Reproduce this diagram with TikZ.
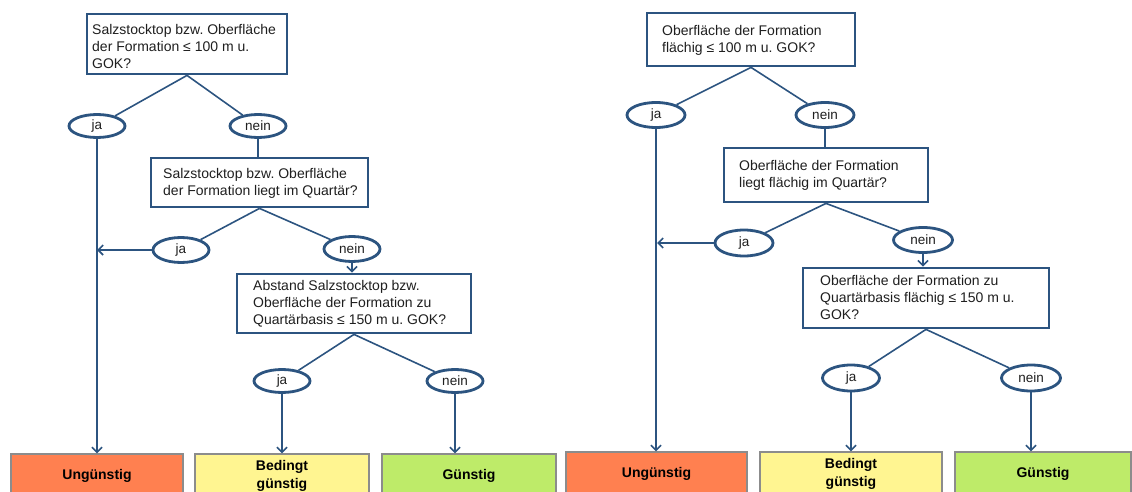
\documentclass[tikz,border=0pt]{standalone}
\usepackage{fontspec}
\setmainfont{Liberation Sans}
\usetikzlibrary{shapes.geometric,arrows.meta}
\definecolor{bl}{RGB}{44,84,128}
\definecolor{orng}{RGB}{255,128,80}
\definecolor{yel}{RGB}{255,245,145}
\definecolor{grn}{RGB}{190,235,105}
\definecolor{frm}{RGB}{140,140,140}
\frenchspacing
\begin{document}
\begin{tikzpicture}[x=1pt,y=-1pt,
  qbox/.style={draw=bl,line width=2.8pt,fill=white,inner sep=0pt},
  qtext/.style={anchor=west,align=left,inner sep=0pt,font=\fontsize{14}{17}\selectfont,text=black!88},
  ans/.style={ellipse,draw=bl,line width=2.8pt,fill=white,inner sep=0pt,minimum width=56pt,minimum height=23pt,font=\fontsize{13.5}{16}\selectfont,text=black!88},
  res/.style={draw=frm,line width=1.3pt,minimum height=44pt,inner sep=0pt,align=center,font=\bfseries\fontsize{14}{18}\selectfont},
  conn/.style={draw=bl,line width=1.6pt},
  arr/.style={conn,-{Straight Barb[length=5pt,width=10pt,line width=1.6pt]}}
]
\useasboundingbox (0,0) rectangle (1132,492);

% ---------------- left tree ----------------
\node[qbox,minimum width=200pt,minimum height=60pt] (L1) at (187,44) {};
\node[qtext] (L1t) at (92,46) {Salzstocktop bzw. Oberfläche\\der Formation ≤ 100 m u.\\GOK?};
\node[ans] (Lj1) at (97,126) {ja};
\node[ans] (Ln1) at (258,126) {nein};

\node[qbox,minimum width=217pt,minimum height=49pt] (L2) at (259.5,182.5) {};
\node[qtext] (L2t) at (163,183) {Salzstocktop bzw. Oberfläche\\der Formation liegt im Quartär?};
\node[ans,minimum height=25pt] (Lj2) at (181,250) {ja};
\node[ans,minimum height=25pt] (Ln2) at (352,249) {nein};

\node[qbox,minimum width=234pt,minimum height=59pt] (L3) at (354,303.5) {};
\node[qtext] (L3t) at (253,304) {Abstand Salzstocktop bzw.\\Oberfläche der Formation zu\\Quartärbasis ≤ 150 m u. GOK?};
\node[ans] (Lj3) at (282,381) {ja};
\node[ans] (Ln3) at (455,381) {nein};

\node[res,fill=orng,minimum width=172pt] (LU) at (97,476) {Ungünstig};
\node[res,fill=yel,minimum width=174pt] (LB) at (282,476) {Bedingt\\günstig};
\node[res,fill=grn,minimum width=174pt] (LG) at (469,476) {Günstig};

\coordinate (Lhit) at (97,250);

\draw[conn] (L1.south) -- (Lj1);
\draw[conn] (L1.south) -- (Ln1);
\draw[conn] (Ln1.south) -- (Ln1.south |- L2.north);
\draw[arr] (Lj1.south) -- (Lj1.south |- LU.north);
\draw[conn] (L2.south) -- (Lj2);
\draw[conn] (L2.south) -- (Ln2);
\draw[arr] (Lj2.west) -- (Lhit);
\draw[arr] (Ln2.south) -- (Ln2.south |- L3.north);
\draw[conn] (L3.south) -- (Lj3);
\draw[conn] (L3.south) -- (Ln3);
\draw[arr] (Lj3.south) -- (Lj3.south |- LB.north);
\draw[arr] (Ln3.south) -- (Ln3.south |- LG.north);

% ---------------- right tree ----------------
\node[qbox,minimum width=208pt,minimum height=53pt] (R1) at (751,39.5) {};
\node[qtext] (R1t) at (662,40) {Oberfläche der Formation\\flächig ≤ 100 m u. GOK?};
\node[ans,minimum width=58pt,minimum height=25pt] (Rj1) at (656,115) {ja};
\node[ans,minimum width=58pt,minimum height=25pt] (Rn1) at (825,115) {nein};

\node[qbox,minimum width=204pt,minimum height=54pt] (R2) at (826,175) {};
\node[qtext] (R2t) at (739,175) {Oberfläche der Formation\\liegt flächig im Quartär?};
\node[ans,minimum width=58pt,minimum height=26pt] (Rj2) at (744,243) {ja};
\node[ans,minimum width=59pt,minimum height=25pt] (Rn2) at (923,240) {nein};

\node[qbox,minimum width=246pt,minimum height=60pt] (R3) at (926,298) {};
\node[qtext] (R3t) at (820,297) {Oberfläche der Formation zu\\Quartärbasis flächig ≤ 150 m u.\\GOK?};
\node[ans,minimum width=57pt,minimum height=26pt] (Rj3) at (851,378) {ja};
\node[ans,minimum width=59pt,minimum height=26pt] (Rn3) at (1031,378) {nein};

\node[res,fill=orng,minimum width=181pt] (RU) at (656.5,474) {Ungünstig};
\node[res,fill=yel,minimum width=182pt] (RB) at (851,474) {Bedingt\\günstig};
\node[res,fill=grn,minimum width=176pt] (RG) at (1043,474) {Günstig};

\coordinate (Rhit) at (657,243);

\draw[conn] (R1.south) -- (Rj1);
\draw[conn] (R1.south) -- (Rn1);
\draw[conn] (Rn1.south) -- (Rn1.south |- R2.north);
\draw[arr] (Rj1.south) -- (Rj1.south |- RU.north);
\draw[conn] (R2.south) -- (Rj2);
\draw[conn] (R2.south) -- (Rn2);
\draw[arr] (Rj2.west) -- (Rhit);
\draw[arr] (Rn2.south) -- (Rn2.south |- R3.north);
\draw[conn] (R3.south) -- (Rj3);
\draw[conn] (R3.south) -- (Rn3);
\draw[arr] (Rj3.south) -- (Rj3.south |- RB.north);
\draw[arr] (Rn3.south) -- (Rn3.south |- RG.north);
\end{tikzpicture}
\end{document}
